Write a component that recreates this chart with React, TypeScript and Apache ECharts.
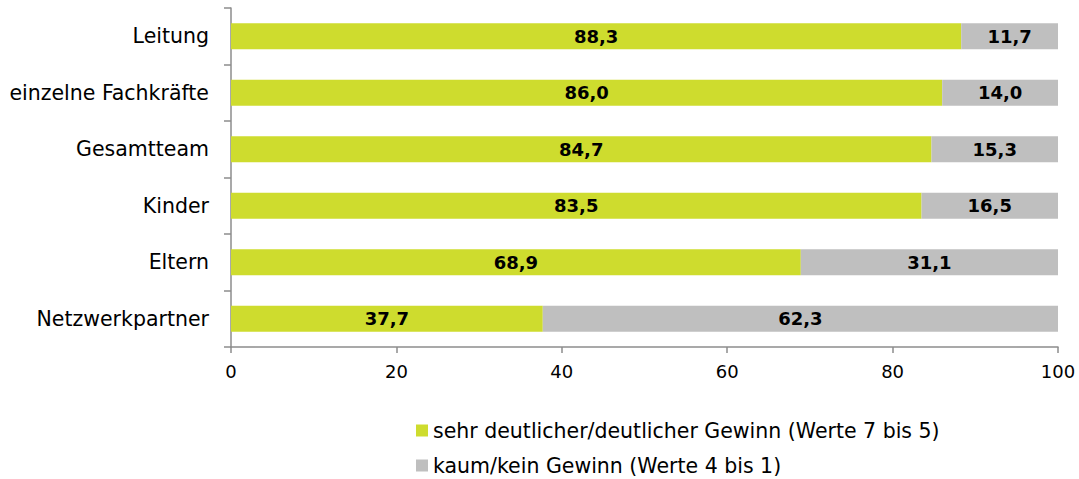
import React, { useEffect, useRef } from "react";
import * as echarts from "echarts";

const categories = ["Leitung", "einzelne Fachkräfte", "Gesamtteam", "Kinder", "Eltern", "Netzwerkpartner"];
const gainValues = [88.3, 86.0, 84.7, 83.5, 68.9, 37.7];
const noGainValues = [11.7, 14.0, 15.3, 16.5, 31.1, 62.3];
const seriesNames = [
  "sehr deutlicher/deutlicher Gewinn (Werte 7 bis 5)",
  "kaum/kein Gewinn (Werte 4 bis 1)",
];
const xTicks = [0, 20, 40, 60, 80, 100];

const fmt = (v: number) => v.toFixed(1).replace(".", ",");

export default function App() {
  const ref = useRef<HTMLDivElement>(null);
  useEffect(() => {
    if (!ref.current) return;
    const chart = echarts.init(ref.current, undefined, { renderer: "svg" });
    const font = "'DejaVu Sans', Verdana, sans-serif";
    const label = {
      show: true,
      position: "inside" as const,
      color: "#000",
      fontWeight: "bold" as const,
      fontSize: 18,
      fontFamily: font,
      formatter: (p: any) => fmt(p.value),
    };
    const legendBase = {
      orient: "horizontal" as const,
      left: 411,
      itemWidth: 12,
      itemHeight: 12,
      itemGap: 10,
      icon: "rect",
      textStyle: { fontSize: 20.5, color: "#000", fontFamily: font },
    };
    chart.setOption({
      animation: false,
      textStyle: { fontFamily: font },
      grid: { left: 231, right: 21, top: 8, bottom: 132, containLabel: false },
      legend: [
        { ...legendBase, top: 415, data: [seriesNames[0]] },
        { ...legendBase, top: 450, data: [seriesNames[1]] },
      ],
      xAxis: {
        type: "value",
        min: xTicks[0],
        max: xTicks[xTicks.length - 1],
        interval: xTicks[1] - xTicks[0],
        splitLine: { show: false },
        axisLine: { show: true, lineStyle: { color: "#8c8c8c", width: 1.5 } },
        axisTick: { show: true, length: 6, lineStyle: { color: "#8c8c8c", width: 1.5 } },
        axisLabel: { fontSize: 18, color: "#000", margin: 15, fontFamily: font },
      },
      yAxis: {
        type: "category",
        inverse: true,
        data: categories,
        axisLine: { show: true, lineStyle: { color: "#8c8c8c", width: 1.5 } },
        axisTick: { show: true, length: 7, lineStyle: { color: "#8c8c8c", width: 1.5 } },
        axisLabel: { fontSize: 20.5, color: "#000", margin: 22, fontFamily: font },
      },
      series: [
        {
          name: seriesNames[0],
          type: "bar",
          stack: "total",
          data: gainValues,
          barWidth: 26,
          itemStyle: { color: "#CEDC2E" },
          label,
        },
        {
          name: seriesNames[1],
          type: "bar",
          stack: "total",
          data: noGainValues,
          barWidth: 26,
          itemStyle: { color: "#BFBFBF" },
          label,
        },
      ],
    });
    return () => chart.dispose();
  }, []);
  return <div ref={ref} style={{ width: 1079, height: 479, position: "absolute", left: 0, top: 0 }} />;
}
